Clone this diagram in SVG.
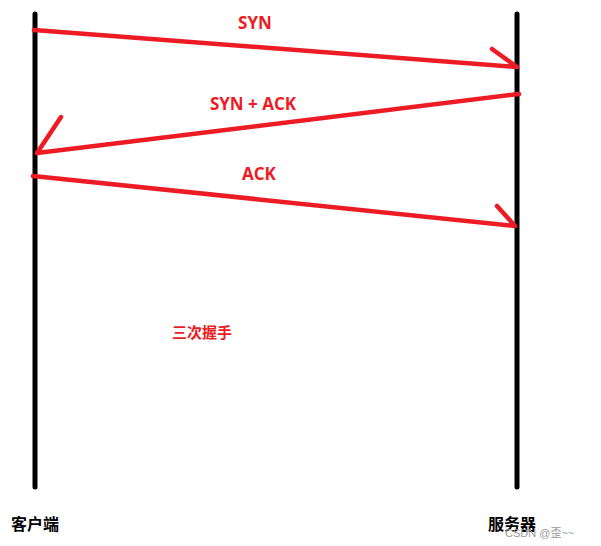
<svg xmlns="http://www.w3.org/2000/svg" width="601" height="546" viewBox="0 0 601 546">
<style>
.life{stroke:#000;stroke-width:5;stroke-linecap:round}
.msg{stroke:#ED1C24;stroke-width:4.5;stroke-linecap:round;fill:none}
.lbl{font-family:"Open Sans","Noto Sans CJK SC",sans-serif;font-weight:bold;font-size:17px;fill:#ED1C24;text-anchor:middle}
.cjk{font-family:"Noto Sans CJK SC",sans-serif;font-weight:bold;font-size:15px;fill:#ED1C24;text-anchor:middle}
.actor{font-family:"Noto Sans CJK SC",sans-serif;font-weight:bold;font-size:16px;fill:#000;text-anchor:middle}
.wm{font-family:"Liberation Sans","Noto Sans CJK SC",sans-serif;font-size:11px;fill:#999}
</style>
<rect width="601" height="546" fill="#fff"/>
<g id="client">
<line class="life" x1="35" y1="14" x2="35" y2="487"/>
<text class="actor" x="35" y="530">客户端</text>
</g>
<g id="server">
<line class="life" x1="517" y1="14" x2="517" y2="487"/>
<text class="actor" x="512" y="530">服务器</text>
</g>
<g id="connectors">
<path class="msg" d="M34,30 L517,67 M492,49 L517,67"/>
<path class="msg" d="M519,94 L37,153 M61,117 L37,153"/>
<path class="msg" d="M33,176 L515,226 M497,206 L515,226"/>
</g>
<g id="labels">
<text class="lbl" x="255" y="29">SYN</text>
<text class="lbl" x="253" y="110">SYN + ACK</text>
<text class="lbl" x="259" y="180">ACK</text>
<text class="cjk" x="202" y="338">三次握手</text>
</g>
<text class="wm" x="505" y="537">CSDN @歪~~</text>
</svg>
